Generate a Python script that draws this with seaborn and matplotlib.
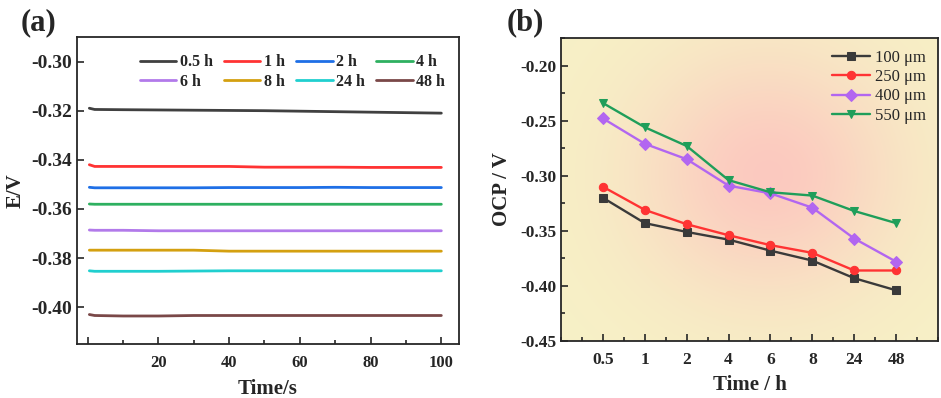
import numpy as np
import pandas as pd
import seaborn as sns
import matplotlib.pyplot as plt
from matplotlib.ticker import MultipleLocator

sns.set_style("ticks")
plt.rcParams['font.family'] = ['Liberation Serif', 'DejaVu Serif']
plt.rcParams['mathtext.fontset'] = 'stix'

# ---- panel (a): potential vs time for each immersion time ----
t_sec = [0.5, 2, 10, 20, 30, 40, 50, 60, 70, 80, 90, 100]
e_05h = [-0.3190, -0.3195, -0.3196, -0.3197, -0.3198, -0.3199, -0.3200, -0.3202, -0.3204, -0.3206, -0.3208, -0.3210]
e_1h = [-0.3420, -0.3427, -0.3427, -0.3427, -0.3427, -0.3427, -0.3430, -0.3430, -0.3430, -0.3431, -0.3431, -0.3431]
e_2h = [-0.3512, -0.3514, -0.3514, -0.3514, -0.3514, -0.3513, -0.3513, -0.3513, -0.3512, -0.3513, -0.3513, -0.3513]
e_4h = [-0.3580, -0.3581, -0.3581, -0.3581, -0.3581, -0.3581, -0.3581, -0.3581, -0.3581, -0.3581, -0.3581, -0.3581]
e_6h = [-0.3686, -0.3687, -0.3687, -0.3689, -0.3689, -0.3689, -0.3689, -0.3689, -0.3689, -0.3689, -0.3689, -0.3689]
e_8h = [-0.3768, -0.3768, -0.3768, -0.3768, -0.3768, -0.3772, -0.3772, -0.3772, -0.3772, -0.3772, -0.3772, -0.3772]
e_24h = [-0.3852, -0.3854, -0.3854, -0.3854, -0.3853, -0.3852, -0.3852, -0.3852, -0.3852, -0.3852, -0.3852, -0.3852]
e_48h = [-0.4030, -0.4034, -0.4036, -0.4036, -0.4034, -0.4034, -0.4034, -0.4034, -0.4034, -0.4034, -0.4034, -0.4034]

labels_a = ['0.5 h', '1 h', '2 h', '4 h', '6 h', '8 h', '24 h', '48 h']
series_a = [e_05h, e_1h, e_2h, e_4h, e_6h, e_8h, e_24h, e_48h]
colors_a = ['#404040', '#FF3333', '#1E6FE6', '#2EB060', '#B27AEA', '#D4A010', '#20CFCF', '#7A4848']

# ---- panel (b): OCP vs immersion time for each thickness ----
times_b = ['0.5', '1', '2', '4', '6', '8', '24', '48']
ocp_100 = [-0.320, -0.343, -0.351, -0.358, -0.368, -0.377, -0.393, -0.404]
ocp_250 = [-0.310, -0.331, -0.344, -0.354, -0.363, -0.370, -0.386, -0.386]
ocp_400 = [-0.248, -0.271, -0.285, -0.309, -0.316, -0.329, -0.357, -0.378]
ocp_550 = [-0.234, -0.256, -0.273, -0.304, -0.315, -0.318, -0.332, -0.343]

labels_b = ['100 μm', '250 μm', '400 μm', '550 μm']
series_b = [ocp_100, ocp_250, ocp_400, ocp_550]
colors_b = ['#3A3A3A', '#FF3333', '#B266F0', '#1F9E5A']
markers_b = ['s', 'o', 'D', 'v']
msizes_b = [5.5, 6, 6, 6]

fig = plt.figure(figsize=(9.41, 3.98), dpi=100)
ax1 = fig.add_axes([0.0818, 0.1357, 0.406, 0.7713])
ax2 = fig.add_axes([0.5962, 0.1432, 0.4006, 0.7613])

# panel a
df_a = pd.DataFrame({'t': t_sec * len(labels_a),
                     'E': np.concatenate(series_a),
                     'run': np.repeat(labels_a, len(t_sec))})
sns.lineplot(data=df_a, x='t', y='E', hue='run', hue_order=labels_a,
             palette=colors_a, linewidth=2, ax=ax1)
ax1.set_xlim(-3, 105)
ax1.set_ylim(-0.415, -0.290)
ax1.set_xticks([0, 20, 40, 60, 80, 100])
ax1.set_xticklabels(['', '20', '40', '60', '80', '100'])
ax1.xaxis.set_minor_locator(MultipleLocator(10))
ax1.set_yticks([-0.30, -0.32, -0.34, -0.36, -0.38, -0.40])
ax1.set_yticklabels(['-0.30', '-0.32', '-0.34', '-0.36', '-0.38', '-0.40'])
ax1.set_xlabel('Time/s', fontsize=15, fontweight='bold', labelpad=6)
ax1.set_ylabel('E/V', fontsize=15, fontweight='bold', labelpad=4)

# legend filled row by row (matplotlib fills by column)
h, l = ax1.get_legend_handles_labels()
order = [0, 4, 1, 5, 2, 6, 3, 7]
ax1.legend([h[i] for i in order], [l[i] for i in order],
           ncol=4, loc='upper right', frameon=False, handlelength=2.3,
           columnspacing=0.7, handletextpad=0.2, labelspacing=0.2,
           bbox_to_anchor=(1.0, 0.99),
           prop=dict(family='Liberation Serif', weight='bold', size=11.5))

# panel b background gradient
gx, gy = np.meshgrid(np.linspace(0, 1, 200), np.linspace(0, 1, 200))
w = np.exp(-((gx - 0.55) / 0.34) ** 2 - ((gy - 0.55) / 0.40) ** 2)
base = np.array([0.968, 0.945, 0.778])
pink = np.array([0.988, 0.790, 0.750])
img = base[None, None, :] * (1 - w[..., None]) + pink[None, None, :] * w[..., None]
ax2.imshow(img, extent=[0, 1, 0, 1], transform=ax2.transAxes, origin='lower',
           aspect='auto', zorder=0)

xpos = np.arange(len(times_b))
for vals, lab, col, mk, ms in zip(series_b, labels_b, colors_b, markers_b, msizes_b):
    sns.lineplot(x=xpos, y=vals, color=col, marker=mk, markersize=ms,
                 markeredgecolor=col, linewidth=1.7, label=lab, ax=ax2)
ax2.set_xlim(-1, 8)
ax2.set_ylim(-0.45, -0.175)
ax2.set_xticks(xpos)
ax2.set_xticklabels(times_b)
ax2.xaxis.set_minor_locator(MultipleLocator(0.5))
ax2.set_yticks([-0.45, -0.40, -0.35, -0.30, -0.25, -0.20])
ax2.set_yticklabels(['-0.45', '-0.40', '-0.35', '-0.30', '-0.25', '-0.20'])
ax2.yaxis.set_minor_locator(MultipleLocator(0.025))
ax2.set_xlabel('Time / h', fontsize=15, fontweight='bold', labelpad=5)
ax2.set_ylabel('OCP / V', fontsize=15, fontweight='bold', labelpad=6)
ax2.legend(loc='upper right', frameon=False, handlelength=2.3,
           handletextpad=0.3, labelspacing=0.2, borderaxespad=0.3,
           prop=dict(family='Liberation Serif', size=12))

tick_sizes = {ax1: (12, 14), ax2: (12.5, 12.5)}
for ax in (ax1, ax2):
    ax.tick_params(which='both', direction='in', width=1.2)
    ax.tick_params(which='major', length=5)
    ax.tick_params(which='minor', length=3)
    ax.tick_params(axis='x', which='both', top=False, pad=8)
    ax.tick_params(axis='y', which='both', right=False)
    xs, ys = tick_sizes[ax]
    for lab in ax.get_xticklabels():
        lab.set_fontsize(xs)
        lab.set_fontweight('bold')
    for lab in ax.get_yticklabels():
        lab.set_fontsize(ys)
        lab.set_fontweight('bold')
    for sp in ax.spines.values():
        sp.set_linewidth(1.3)
        sp.set_visible(True)

fig.text(0.022, 0.925, '(a)', fontsize=22, fontweight='bold')
fig.text(0.538, 0.925, '(b)', fontsize=22, fontweight='bold')

fig.savefig('out.png', dpi=100)
